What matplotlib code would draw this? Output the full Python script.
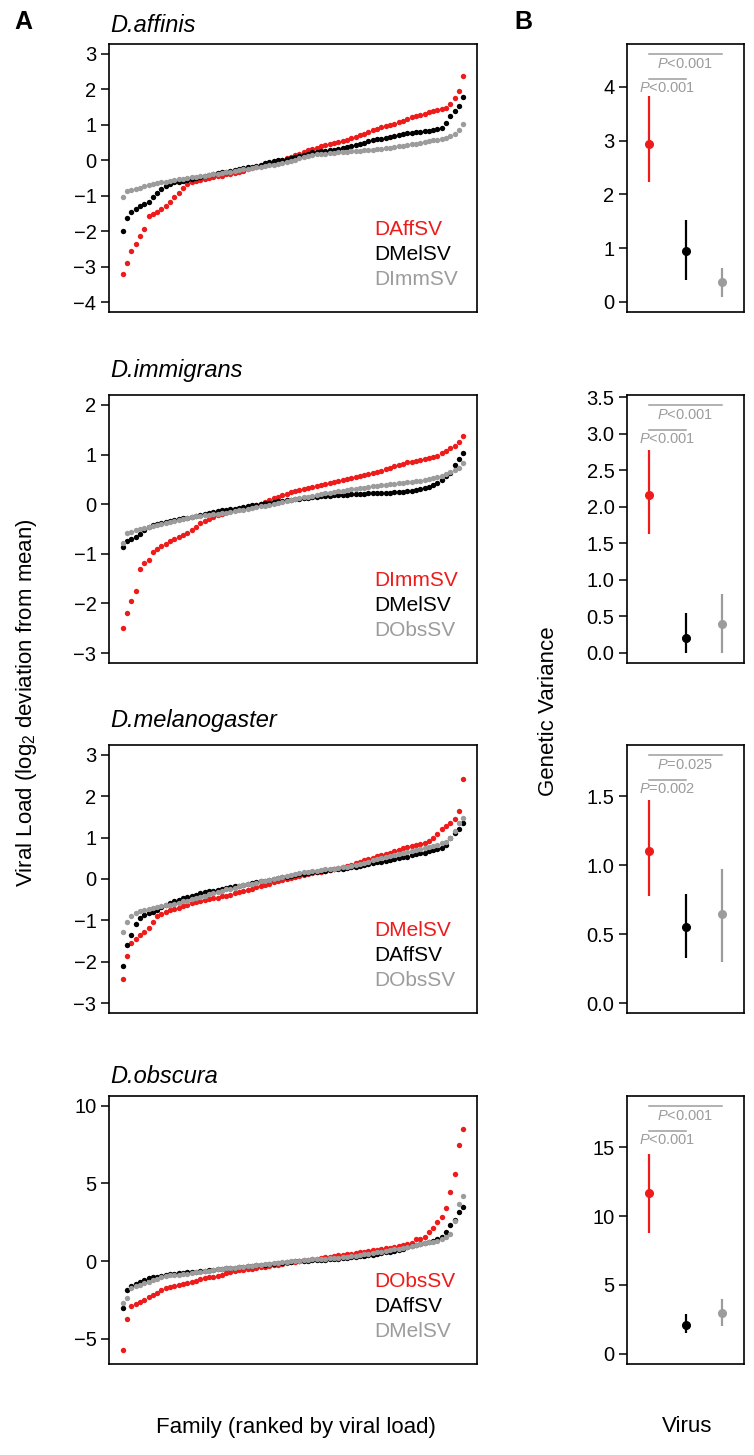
import matplotlib
matplotlib.use("Agg")
from matplotlib import pyplot as plt
import matplotlib.transforms as mtransforms
import numpy as np

plt.rcParams['font.family'] = ['Liberation Sans', 'DejaVu Sans']
plt.rcParams['mathtext.fontset'] = 'custom'
plt.rcParams['mathtext.rm'] = 'Liberation Sans'
plt.rcParams['mathtext.it'] = 'Liberation Sans:italic'

RED = '#ee1b1b'
BLACK = '#000000'
GREY = '#9c9c9c'

# ---- panel A: viral load per family, ranked (log2 deviation from mean) ----
affinis_daffsv = [
    -3.20, -2.90, -2.55, -2.35, -2.15, -1.95, -1.58, -1.52, -1.45, -1.38,
    -1.30, -1.18, -1.05, -0.92, -0.78, -0.66, -0.62, -0.58, -0.55, -0.52,
    -0.50, -0.48, -0.45, -0.43, -0.40, -0.38, -0.35, -0.32, -0.29, -0.26,
    -0.23, -0.20, -0.17, -0.14, -0.10, -0.06, -0.02, 0.02, 0.06, 0.10,
    0.14, 0.18, 0.23, 0.28, 0.32, 0.36, 0.39, 0.42, 0.45, 0.48,
    0.52, 0.55, 0.58, 0.62, 0.66, 0.71, 0.75, 0.80, 0.85, 0.89,
    0.93, 0.97, 1.00, 1.03, 1.07, 1.11, 1.16, 1.21, 1.25, 1.28,
    1.31, 1.35, 1.38, 1.41, 1.44, 1.48, 1.58, 1.75, 1.95, 2.38]
affinis_dmelsv = [
    -2.00, -1.62, -1.45, -1.38, -1.30, -1.24, -1.18, -1.05, -0.92, -0.82,
    -0.72, -0.66, -0.62, -0.60, -0.58, -0.56, -0.53, -0.50, -0.47, -0.44,
    -0.42, -0.40, -0.37, -0.34, -0.32, -0.30, -0.27, -0.25, -0.22, -0.20,
    -0.18, -0.15, -0.12, -0.08, -0.04, -0.02, 0.00, 0.02, 0.04, 0.07,
    0.10, 0.13, 0.16, 0.19, 0.22, 0.24, 0.26, 0.27, 0.29, 0.30,
    0.32, 0.34, 0.37, 0.40, 0.43, 0.46, 0.50, 0.53, 0.56, 0.59,
    0.61, 0.63, 0.65, 0.68, 0.71, 0.74, 0.76, 0.78, 0.79, 0.80,
    0.82, 0.83, 0.85, 0.87, 0.92, 1.05, 1.25, 1.40, 1.52, 1.78]
affinis_dimmsv = [
    -1.05, -0.86, -0.83, -0.80, -0.77, -0.73, -0.70, -0.67, -0.64, -0.62,
    -0.60, -0.58, -0.56, -0.54, -0.52, -0.50, -0.48, -0.47, -0.45, -0.44,
    -0.42, -0.40, -0.38, -0.36, -0.34, -0.32, -0.30, -0.28, -0.26, -0.24,
    -0.22, -0.20, -0.18, -0.16, -0.14, -0.12, -0.10, -0.07, -0.04, -0.01,
    0.02, 0.06, 0.10, 0.13, 0.15, 0.17, 0.18, 0.19, 0.20, 0.21,
    0.22, 0.23, 0.24, 0.25, 0.26, 0.27, 0.28, 0.29, 0.30, 0.31,
    0.32, 0.34, 0.35, 0.37, 0.39, 0.41, 0.43, 0.45, 0.47, 0.50,
    0.52, 0.54, 0.56, 0.58, 0.61, 0.64, 0.68, 0.74, 0.85, 1.02]

immigrans_dimmsv = [
    -2.50, -2.20, -1.95, -1.75, -1.30, -1.18, -1.12, -0.96, -0.90, -0.85,
    -0.80, -0.74, -0.70, -0.66, -0.62, -0.58, -0.52, -0.45, -0.38, -0.33,
    -0.29, -0.26, -0.22, -0.19, -0.16, -0.13, -0.11, -0.09, -0.07, -0.05,
    -0.03, -0.01, 0.01, 0.04, 0.08, 0.12, 0.15, 0.18, 0.21, 0.24,
    0.26, 0.28, 0.30, 0.32, 0.34, 0.37, 0.39, 0.41, 0.43, 0.45,
    0.47, 0.49, 0.51, 0.53, 0.55, 0.57, 0.59, 0.61, 0.63, 0.65,
    0.67, 0.70, 0.73, 0.76, 0.79, 0.81, 0.84, 0.86, 0.88, 0.89,
    0.91, 0.93, 0.95, 0.98, 1.03, 1.08, 1.13, 1.18, 1.25, 1.38]
immigrans_dmelsv = [
    -0.87, -0.75, -0.71, -0.67, -0.60, -0.53, -0.45, -0.42, -0.40, -0.38,
    -0.36, -0.34, -0.32, -0.30, -0.28, -0.27, -0.25, -0.23, -0.21, -0.19,
    -0.17, -0.16, -0.14, -0.12, -0.11, -0.10, -0.09, -0.08, -0.06, -0.04,
    -0.02, -0.01, 0.00, 0.02, 0.03, 0.04, 0.06, 0.07, 0.08, 0.09,
    0.10, 0.11, 0.12, 0.13, 0.14, 0.15, 0.16, 0.16, 0.17, 0.18,
    0.18, 0.19, 0.19, 0.20, 0.20, 0.21, 0.21, 0.22, 0.22, 0.22,
    0.23, 0.23, 0.23, 0.24, 0.24, 0.25, 0.26, 0.27, 0.28, 0.30,
    0.32, 0.35, 0.38, 0.42, 0.48, 0.56, 0.62, 0.78, 0.92, 1.03]
immigrans_dobssv = [
    -0.78, -0.59, -0.56, -0.53, -0.50, -0.47, -0.45, -0.43, -0.41, -0.39,
    -0.37, -0.35, -0.33, -0.31, -0.29, -0.27, -0.26, -0.24, -0.23, -0.22,
    -0.21, -0.20, -0.19, -0.18, -0.17, -0.15, -0.14, -0.12, -0.11, -0.09,
    -0.07, -0.06, -0.04, -0.03, -0.01, 0.01, 0.03, 0.05, 0.07, 0.08,
    0.10, 0.12, 0.14, 0.15, 0.17, 0.19, 0.20, 0.22, 0.23, 0.25,
    0.26, 0.27, 0.29, 0.30, 0.31, 0.32, 0.33, 0.35, 0.36, 0.37,
    0.38, 0.39, 0.40, 0.41, 0.42, 0.43, 0.44, 0.45, 0.46, 0.47,
    0.48, 0.50, 0.52, 0.54, 0.57, 0.60, 0.64, 0.68, 0.73, 0.82]

melanogaster_dmelsv = [
    -2.42, -1.85, -1.55, -1.45, -1.35, -1.27, -1.18, -1.05, -0.90, -0.85,
    -0.80, -0.76, -0.72, -0.69, -0.65, -0.62, -0.59, -0.56, -0.53, -0.51,
    -0.49, -0.47, -0.45, -0.42, -0.40, -0.38, -0.35, -0.32, -0.29, -0.26,
    -0.23, -0.20, -0.17, -0.14, -0.11, -0.08, -0.05, -0.02, 0.00, 0.03,
    0.05, 0.08, 0.10, 0.12, 0.14, 0.16, 0.18, 0.20, 0.22, 0.24,
    0.26, 0.29, 0.32, 0.35, 0.38, 0.42, 0.45, 0.48, 0.51, 0.55,
    0.58, 0.61, 0.64, 0.68, 0.71, 0.74, 0.77, 0.80, 0.82, 0.84,
    0.86, 0.92, 1.00, 1.10, 1.20, 1.28, 1.36, 1.46, 1.65, 2.42]
melanogaster_daffsv = [
    -2.10, -1.60, -1.35, -1.10, -0.95, -0.88, -0.83, -0.79, -0.75, -0.68,
    -0.62, -0.58, -0.54, -0.50, -0.47, -0.44, -0.41, -0.38, -0.35, -0.32,
    -0.30, -0.28, -0.26, -0.24, -0.22, -0.20, -0.18, -0.16, -0.14, -0.12,
    -0.10, -0.08, -0.06, -0.04, -0.02, 0.00, 0.02, 0.04, 0.06, 0.08,
    0.10, 0.12, 0.13, 0.15, 0.16, 0.17, 0.19, 0.20, 0.21, 0.23,
    0.24, 0.25, 0.27, 0.28, 0.30, 0.32, 0.34, 0.36, 0.38, 0.40,
    0.42, 0.44, 0.46, 0.48, 0.50, 0.52, 0.54, 0.57, 0.60, 0.62,
    0.64, 0.67, 0.70, 0.73, 0.76, 0.82, 1.00, 1.12, 1.22, 1.36]
melanogaster_dobssv = [
    -1.27, -1.05, -0.90, -0.83, -0.78, -0.74, -0.72, -0.70, -0.68, -0.66,
    -0.64, -0.62, -0.60, -0.57, -0.54, -0.52, -0.49, -0.46, -0.43, -0.40,
    -0.37, -0.34, -0.31, -0.28, -0.25, -0.23, -0.21, -0.18, -0.15, -0.13,
    -0.11, -0.09, -0.06, -0.04, -0.02, 0.00, 0.02, 0.05, 0.08, 0.10,
    0.12, 0.14, 0.16, 0.18, 0.19, 0.20, 0.21, 0.23, 0.24, 0.25,
    0.26, 0.28, 0.30, 0.32, 0.34, 0.36, 0.39, 0.42, 0.45, 0.48,
    0.50, 0.53, 0.55, 0.58, 0.60, 0.62, 0.65, 0.67, 0.70, 0.72,
    0.74, 0.77, 0.80, 0.83, 0.86, 0.90, 1.00, 1.15, 1.35, 1.48]

obscura_dobssv = [
    -5.76, -3.76, -2.90, -2.80, -2.65, -2.50, -2.35, -2.22, -2.05, -1.90,
    -1.75, -1.70, -1.62, -1.55, -1.50, -1.42, -1.34, -1.26, -1.18, -1.12,
    -1.06, -1.01, -0.96, -0.88, -0.80, -0.72, -0.65, -0.61, -0.57, -0.53,
    -0.49, -0.45, -0.41, -0.37, -0.32, -0.27, -0.23, -0.18, -0.14, -0.09,
    -0.05, 0.00, 0.04, 0.08, 0.12, 0.16, 0.20, 0.24, 0.28, 0.32,
    0.36, 0.40, 0.44, 0.48, 0.52, 0.56, 0.60, 0.65, 0.69, 0.74,
    0.78, 0.82, 0.87, 0.92, 0.97, 1.04, 1.10, 1.18, 1.40, 1.45,
    1.55, 1.85, 2.15, 2.50, 2.85, 3.40, 4.47, 5.60, 7.45, 8.50]
obscura_daffsv = [
    -3.05, -1.90, -1.62, -1.45, -1.35, -1.25, -1.12, -1.05, -1.00, -0.95,
    -0.90, -0.86, -0.83, -0.80, -0.77, -0.74, -0.71, -0.68, -0.65, -0.62,
    -0.60, -0.57, -0.54, -0.51, -0.48, -0.45, -0.42, -0.40, -0.37, -0.34,
    -0.31, -0.28, -0.25, -0.23, -0.20, -0.17, -0.14, -0.11, -0.08, -0.05,
    -0.02, 0.00, 0.02, 0.03, 0.05, 0.06, 0.08, 0.09, 0.10, 0.12,
    0.14, 0.17, 0.20, 0.23, 0.26, 0.30, 0.34, 0.38, 0.42, 0.46,
    0.50, 0.55, 0.60, 0.65, 0.72, 0.80, 0.88, 0.95, 1.02, 1.10,
    1.18, 1.24, 1.29, 1.40, 1.55, 1.90, 2.30, 2.65, 3.15, 3.48]
obscura_dmelsv = [
    -2.69, -2.40, -1.72, -1.62, -1.52, -1.42, -1.33, -1.25, -1.15, -1.05,
    -0.97, -0.93, -0.90, -0.87, -0.84, -0.81, -0.78, -0.74, -0.70, -0.66,
    -0.62, -0.58, -0.54, -0.51, -0.48, -0.45, -0.42, -0.39, -0.36, -0.33,
    -0.30, -0.27, -0.24, -0.21, -0.18, -0.15, -0.12, -0.09, -0.06, -0.03,
    -0.01, 0.02, 0.05, 0.08, 0.10, 0.12, 0.14, 0.16, 0.18, 0.20,
    0.22, 0.25, 0.28, 0.31, 0.35, 0.39, 0.43, 0.47, 0.51, 0.55,
    0.60, 0.65, 0.70, 0.75, 0.80, 0.86, 0.92, 0.98, 1.04, 1.10,
    1.15, 1.20, 1.25, 1.32, 1.40, 1.55, 1.72, 2.60, 3.70, 4.19]

species = ["D.affinis", "D.immigrans", "D.melanogaster", "D.obscura"]
virus_names = [["DAffSV", "DMelSV", "DImmSV"],
               ["DImmSV", "DMelSV", "DObsSV"],
               ["DMelSV", "DAffSV", "DObsSV"],
               ["DObsSV", "DAffSV", "DMelSV"]]
loads = [[affinis_daffsv, affinis_dmelsv, affinis_dimmsv],
         [immigrans_dimmsv, immigrans_dmelsv, immigrans_dobssv],
         [melanogaster_dmelsv, melanogaster_daffsv, melanogaster_dobssv],
         [obscura_dobssv, obscura_daffsv, obscura_dmelsv]]

# ---- panel B: genetic variance, estimate and 95% interval ----
gv_mean = [[2.94, 0.95, 0.37],
           [2.16, 0.20, 0.40],
           [1.10, 0.55, 0.65],
           [11.7, 2.1, 3.0]]
gv_low = [[2.23, 0.41, 0.08],
          [1.62, 0.00, 0.00],
          [0.78, 0.33, 0.30],
          [8.8, 1.5, 2.0]]
gv_high = [[3.84, 1.53, 0.63],
           [2.78, 0.54, 0.81],
           [1.47, 0.79, 0.97],
           [14.5, 2.9, 4.0]]
p_far = ["<0.001", "<0.001", "=0.025", "<0.001"]   # red vs grey
p_near = ["<0.001", "<0.001", "=0.002", "<0.001"]  # red vs black

# axis setup
a_yticks = [range(-4, 4), range(-3, 3), range(-3, 4), [-5, 0, 5, 10]]
a_ylims = [(-4.28, 3.28), (-3.2, 2.2), (-3.24, 3.24), (-6.64, 10.64)]
b_yticks = [[0, 1, 2, 3, 4], [0, 0.5, 1, 1.5, 2, 2.5, 3, 3.5],
            [0, 0.5, 1, 1.5], [0, 5, 10, 15]]
b_fmt = ["{:.0f}", "{:.1f}", "{:.1f}", "{:.0f}"]
b_ylims = [(-0.19, 4.8), (-0.14, 3.53), (-0.07, 1.87), (-0.73, 18.7)]
title_base = [32, 377, 727, 1083]

colors = [RED, BLACK, GREY]
W, H = 754, 1455
fig = plt.figure(figsize=(W / 100, H / 100), dpi=100)

tops = [44, 395, 745, 1096]
ph = 268


def style_axis(ax):
    for s in ax.spines.values():
        s.set_linewidth(1.2)
    ax.set_xticks([])
    ax.tick_params(axis='y', direction='out', length=6, width=1.1,
                   labelsize=14.5, pad=3)


for row in range(4):
    bottom = 1 - (tops[row] + ph) / H
    axA = fig.add_axes([109 / W, bottom, 368 / W, ph / H])
    axB = fig.add_axes([627 / W, bottom, 117 / W, ph / H])

    n = len(loads[row][0])
    for vals, col in zip(loads[row], colors):
        vals = np.sort(vals)
        axA.scatter(np.arange(1, len(vals) + 1), vals, s=15, color=col,
                    linewidths=0, zorder=2)
    axA.set_xlim(1 - 0.04 * (n - 1), n + 0.04 * (n - 1))
    axA.set_ylim(*a_ylims[row])
    axA.set_yticks(list(a_yticks[row]))
    axA.set_yticklabels([str(t).replace('-', '\u2212') for t in a_yticks[row]])
    style_axis(axA)
    for k, (name, col) in enumerate(zip(virus_names[row], colors)):
        axA.text(0.72, [0.306, 0.213, 0.123][k], name, color=col,
                 fontsize=15, ha='left', va='center', transform=axA.transAxes)
    fig.text(110 / W, 1 - title_base[row] / H, species[row], fontsize=17,
             style='italic', ha='left', va='baseline')

    # genetic variance
    for k, col in enumerate(colors):
        m = gv_mean[row][k]
        axB.errorbar([k + 1], [m],
                     yerr=[[m - gv_low[row][k]], [gv_high[row][k] - m]],
                     fmt='o', color=col, ms=5.5, elinewidth=1.6, capsize=0)
    axB.set_xlim(0.4, 3.6)
    axB.set_ylim(*b_ylims[row])
    axB.set_yticks(b_yticks[row])
    axB.set_yticklabels([b_fmt[row].format(t) for t in b_yticks[row]])
    style_axis(axB)
    tr = mtransforms.blended_transform_factory(axB.transData, axB.transAxes)
    axB.plot([1, 3], [0.963, 0.963], color=GREY, lw=1.1, transform=tr)
    axB.text(2, 0.927, r"$P$" + p_far[row], color=GREY, fontsize=10.5,
             ha='center', va='center', transform=tr)
    axB.plot([1, 2], [0.869, 0.869], color=GREY, lw=1.1, transform=tr)
    axB.text(1.5, 0.834, r"$P$" + p_near[row], color=GREY, fontsize=10.5,
             ha='center', va='center', transform=tr)

fig.text(23 / W, 1 - 22 / H, "A", fontsize=18, fontweight='bold',
         ha='center', va='center')
fig.text(523 / W, 1 - 22 / H, "B", fontsize=18, fontweight='bold',
         ha='center', va='center')
fig.text(27 / W, 1 - 703 / H, r"Viral Load (log$_2$ deviation from mean)",
         rotation=90, fontsize=16, ha='center', va='center')
fig.text(548 / W, 1 - 711 / H, "Genetic Variance", rotation=90, fontsize=16,
         ha='center', va='center')
fig.text(296 / W, 1 - 1428 / H, "Family (ranked by viral load)", fontsize=16,
         ha='center', va='center')
fig.text(687 / W, 1 - 1427 / H, "Virus", fontsize=16, ha='center', va='center')

fig.savefig("out.png", dpi=100)
